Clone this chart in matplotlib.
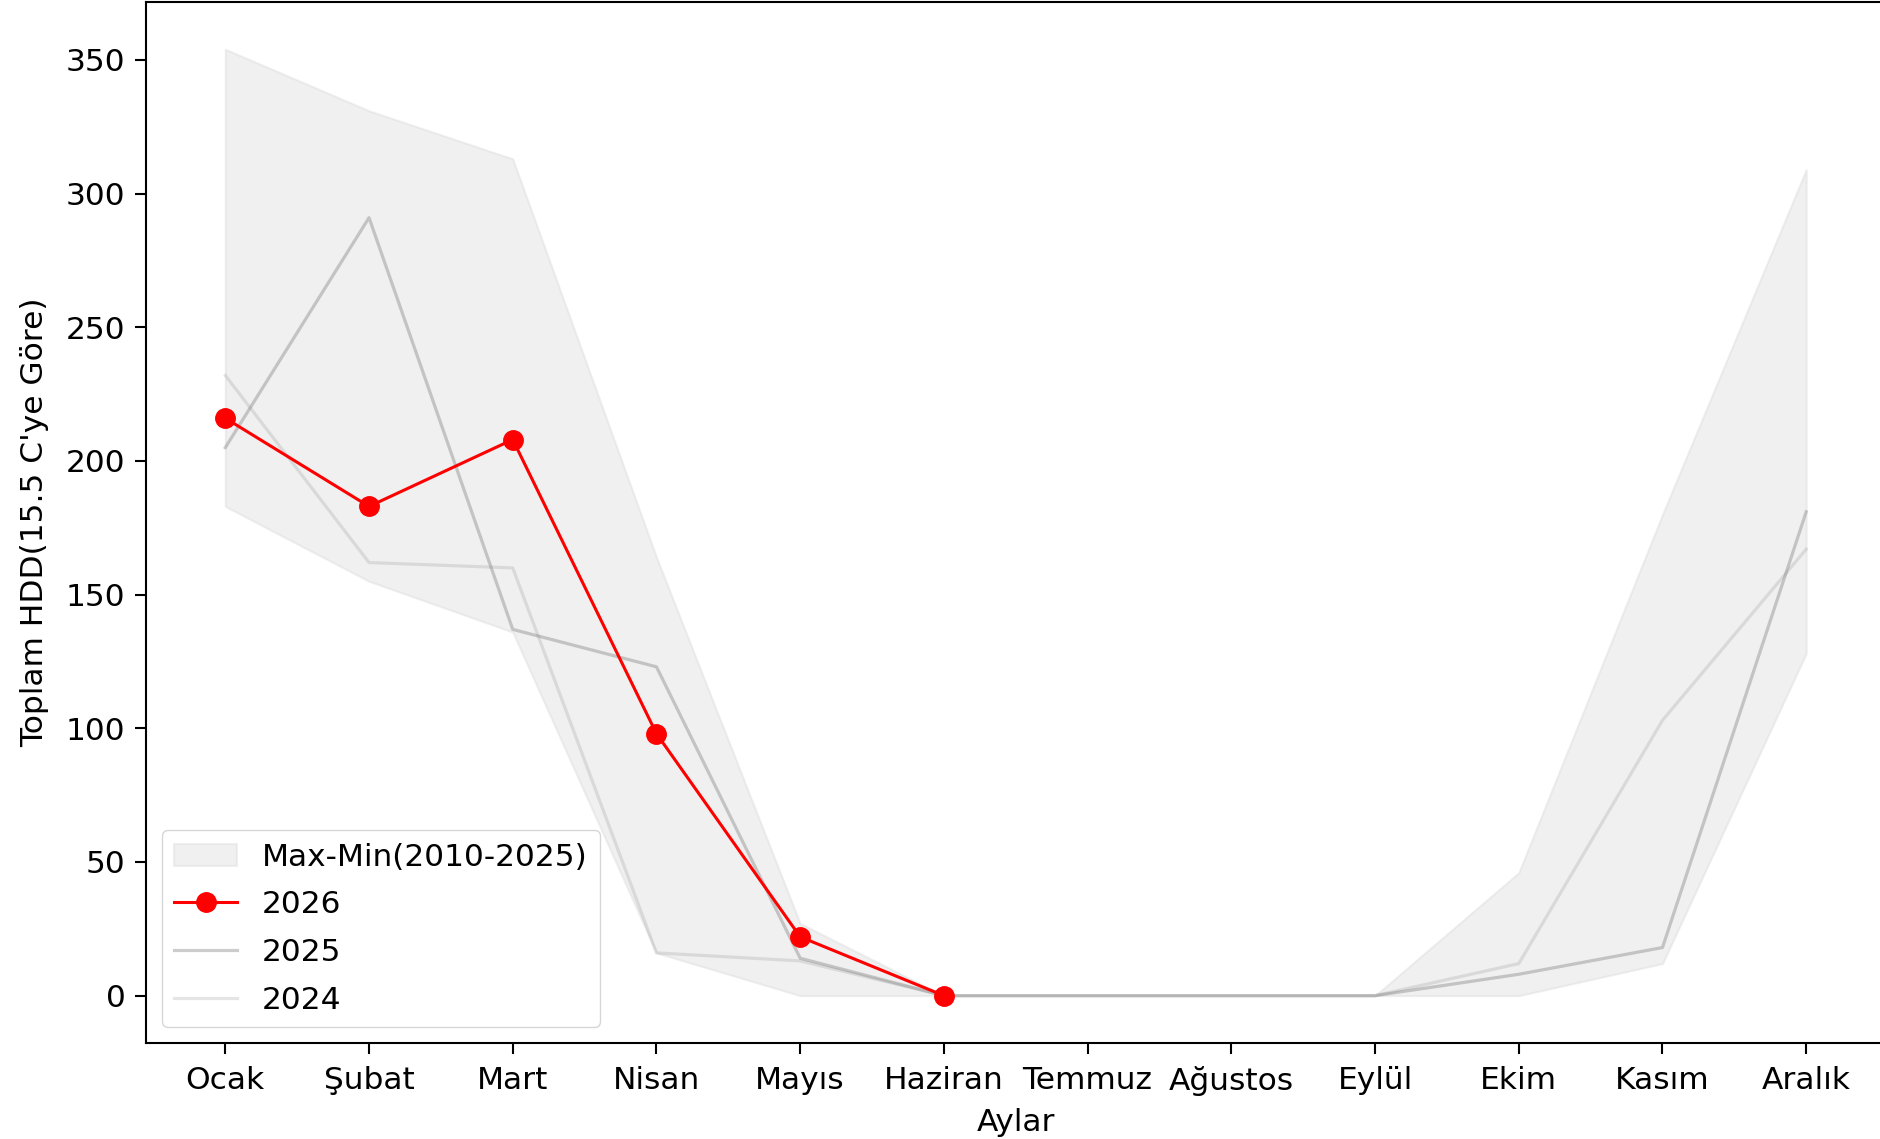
import matplotlib.pyplot as plt
import numpy as np

months = ['Ocak', 'Şubat', 'Mart', 'Nisan', 'Mayıs', 'Haziran', 'Temmuz',
          'Ağustos', 'Eylül', 'Ekim', 'Kasım', 'Aralık']

hdd_max = [354, 331, 313, 164, 27, 0, 0, 0, 0, 46, 180, 309]
hdd_min = [183, 155, 136, 16, 0, 0, 0, 0, 0, 0, 12, 128]
hdd_2025 = [205, 291, 137, 123, 14, 0, 0, 0, 0, 8, 18, 181]
hdd_2024 = [232, 162, 160, 16, 13, 0, 0, 0, 0, 12, 103, 167]
hdd_2026 = [216, 183, 208, 98, 22, 0]

fs = 22.5
plt.rcParams['font.family'] = ['DejaVu Sans']
plt.rcParams['font.size'] = fs

fig = plt.figure(figsize=(18.8, 11.39), dpi=100)
ax = fig.add_axes([0.0778, 0.0843, 0.925, 0.914])

x = np.arange(len(months))
ax.fill_between(x, hdd_min, hdd_max, color='lightgray', alpha=0.33,
                linewidth=1.5, label='Max-Min(2010-2025)')
ax.plot(np.arange(len(hdd_2026)), hdd_2026, color='red', marker='o',
        linewidth=2.2, markersize=14, label='2026', zorder=5)
ax.plot(x, hdd_2025, color='gray', alpha=0.4, linewidth=2.3, label='2025')
ax.plot(x, hdd_2024, color='gray', alpha=0.2, linewidth=2.3, label='2024')

ax.set_xticks(x)
ax.set_xticklabels(months)
ax.set_yticks([0, 50, 100, 150, 200, 250, 300, 350])
ax.set_xlabel('Aylar', labelpad=9)
ax.set_ylabel("Toplam HDD(15.5 C'ye Göre)", labelpad=12)
ax.tick_params(width=1.5, length=8, labelsize=fs)
ax.tick_params(axis='x', pad=8.5)
ax.tick_params(axis='y', pad=7)
for s in ax.spines.values():
    s.set_linewidth(1.5)

ax.legend(loc='lower left', fontsize=fs, handlelength=2.0, labelspacing=0.6)

fig.savefig('out.png', dpi=100)
